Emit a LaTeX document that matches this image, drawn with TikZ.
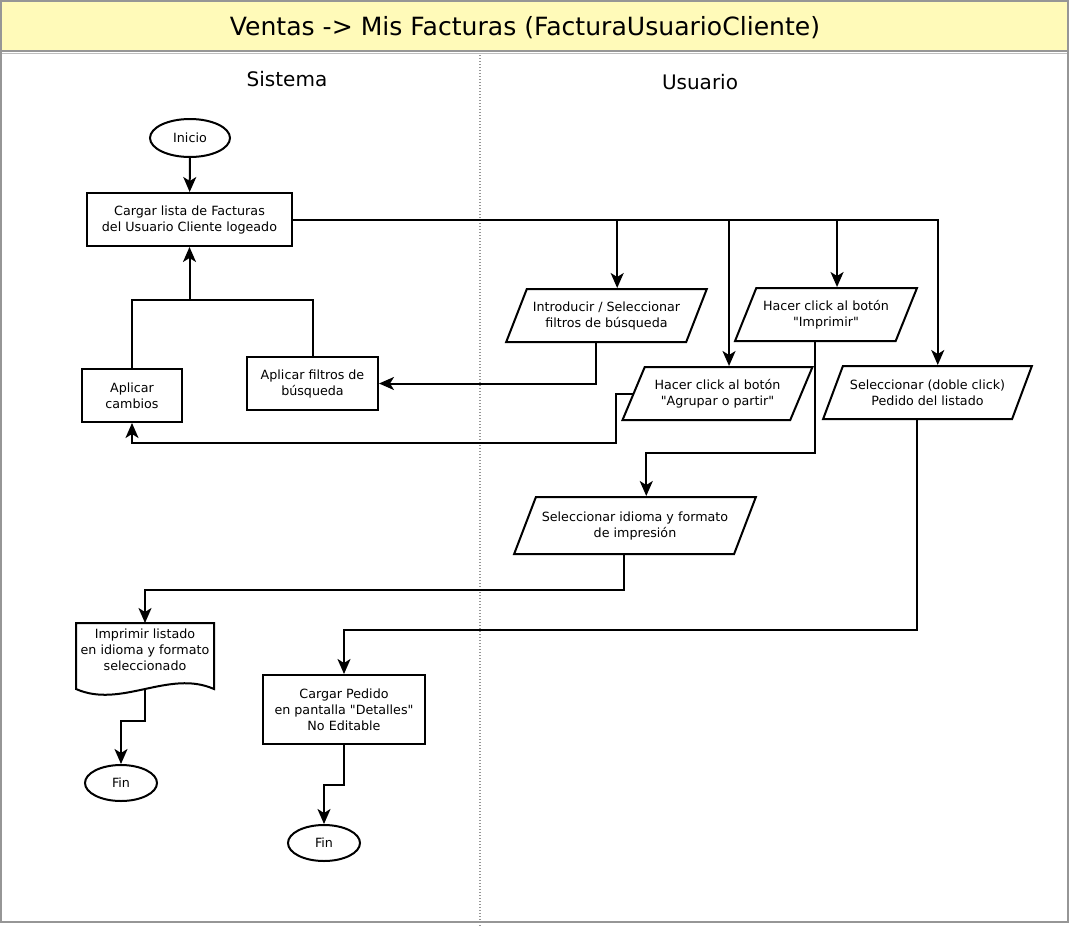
\documentclass[tikz,border=0pt]{standalone}
\usepackage{fontspec}
\setmainfont{DejaVu Sans}[Ligatures=TeXOff]
\usepackage{tikz}
\usetikzlibrary{shapes.geometric, arrows.meta, positioning}

\definecolor{amarillotitulo}{RGB}{255,250,185}
\definecolor{grismarco}{RGB}{150,150,150}
\definecolor{grisclaro}{RGB}{190,190,190}
\newcommand{\letrachica}{\fontsize{12.7}{16}\selectfont}
\newcommand{\letracarril}{\fontsize{20}{24}\selectfont}
\newcommand{\letratitulo}{\fontsize{25.1}{29}\selectfont}

\begin{document}
\begin{tikzpicture}[x=1pt, y=1pt, ->, >={Stealth[length=15pt, width=13pt, inset=4pt]}, line width=2pt,
    proceso/.style={draw, rectangle, align=center, inner sep=0pt, font=\letrachica},
    terminal/.style={draw, ellipse, inner sep=0pt, minimum width=72pt, minimum height=36pt, font=\letrachica},
    entrada/.style={draw, trapezium, trapezium left angle=70, trapezium right angle=110,
        trapezium stretches, align=center, inner xsep=0pt, inner ysep=12pt, minimum height=53pt, font=\letrachica}]
    \useasboundingbox (0,0) rectangle (1069,-927);

    % marco y carriles
    \draw[-, grismarco, line width=2pt] (1,-1) rectangle (1068,-921.5);
    \fill[amarillotitulo] (2,-2) rectangle (1067,-50);
    \draw[-, grismarco, line width=2.5pt] (2,-51.2) -- (1067,-51.2);
    \draw[-, grisclaro, line width=1.5pt] (2,-53.6) -- (1067,-53.6);
    \draw[-, grismarco, line width=1.2pt, dash pattern=on 1.2pt off 1.8pt] (480,-55) -- (480,-927);

    \node[font=\letratitulo] (titulo) at (525,-28) {Ventas -> Mis Facturas (FacturaUsuarioCliente)};
    \node[font=\letracarril] (sistema) at (287,-79) {Sistema};
    \node[font=\letracarril] (usuario) at (700,-82) {Usuario};

    % sistema
    \node[terminal, minimum width=80pt, minimum height=38pt] (inicio) at (190,-138) {Inicio};
    \node[proceso, minimum width=205pt, minimum height=53pt] (cargar) at (189.5,-219.5) {Cargar lista de Facturas\\del Usuario Cliente logeado};
    \node[proceso, minimum width=100pt, minimum height=53pt] (cambios) at (132,-395.5) {Aplicar\\cambios};
    \node[proceso, minimum width=131pt, minimum height=53pt] (filtros) at (312.5,-383.5) {Aplicar filtros de\\búsqueda};

    % usuario
    \node[entrada, minimum width=201pt] (introducir) at (606.5,-315.5) {Introducir / Seleccionar\\filtros de búsqueda};
    \node[entrada, minimum width=182pt] (imprimir) at (826,-314.5) {Hacer click al botón\\"Imprimir"};
    \node[entrada, minimum width=190pt] (agrupar) at (717.5,-393.5) {Hacer click al botón\\"Agrupar o partir"};
    \node[entrada, minimum width=209pt] (doble) at (927.5,-392.5) {Seleccionar (doble click)\\Pedido del listado};
    \node[entrada, minimum width=242pt, minimum height=57pt, inner ysep=14pt] (idioma) at (635,-525.5) {Seleccionar idioma y formato\\de impresión};

    % salidas
    \node[proceso, draw=none, minimum width=136pt, minimum height=52pt] (listado) at (145,-650) {Imprimir listado\\en idioma y formato\\seleccionado};
    \draw[-] (listado.north west) -- (listado.north east) -- ([yshift=-12pt]listado.south east)
        .. controls +(-45,20) and +(45,-20) .. ([yshift=-12pt]listado.south west) -- cycle;
    \node[terminal] (fin1) at (121,-783) {Fin};
    \node[proceso, minimum width=162pt, minimum height=69pt] (pedido) at (344,-709.5) {Cargar Pedido\\en pantalla "Detalles"\\No Editable};
    \node[terminal] (fin2) at (324,-843) {Fin};

    \draw (inicio) -- (cargar);
    \draw (cargar.east) -| (introducir.top side);
    \draw (cargar.east) -| (agrupar.top side);
    \draw (cargar.east) -| (imprimir.top side);
    \draw (cargar.east) -| (doble.top side);
    \draw (introducir.bottom side) |- (filtros.east);
    \draw (agrupar.left side) -| (616,-443) -| (cambios.south);
    \coordinate (union) at (189.5,-300);
    \draw[-] (cambios.north) |- (union);
    \draw[-] (filtros.north) |- (union);
    \draw (union) -- (cargar.south);
    \draw (imprimir.bottom side) -- ++(0,-111) -| (idioma.top side);
    \draw (idioma.bottom side) -- ++(0,-35) -| (listado.north);
    \draw (doble.bottom side) -- ++(0,-210) -| (pedido.north);
    \draw ([yshift=-12pt]listado.south) -- ++(0,-32) -| (fin1.north);
    \draw (pedido.south) -- ++(0,-40) -| (fin2.north);
\end{tikzpicture}
\end{document}
